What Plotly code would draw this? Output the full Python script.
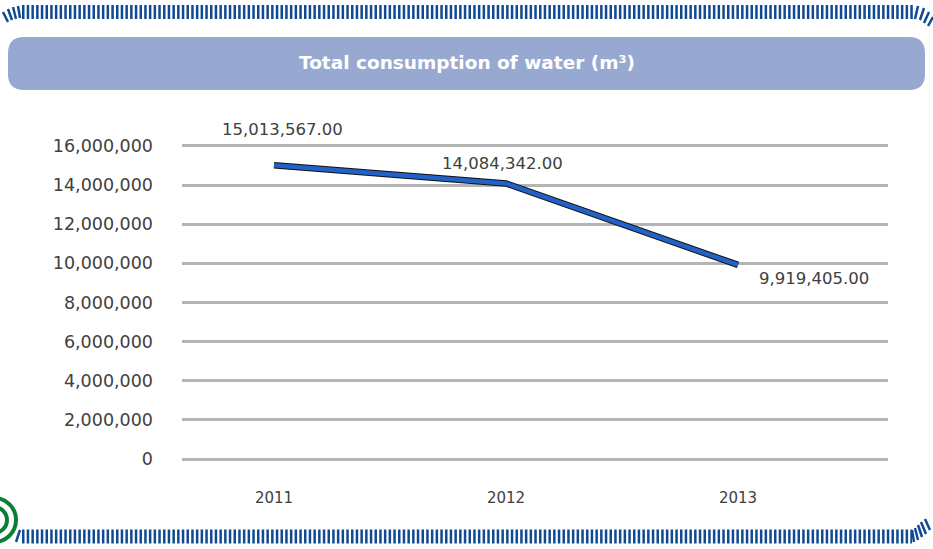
import plotly.graph_objects as go

years = [2011, 2012, 2013]
consumption = [15013567.00, 14084342.00, 9919405.00]
y_ticks = [0, 2000000, 4000000, 6000000, 8000000, 10000000, 12000000, 14000000, 16000000]

W, H = 933, 549
L, R, T, B = 182, 888, 144, 461  # plot area in pixels (range padded a little)


def px(x):
    return (x - L) / (R - L)


def py(y):
    return (B - y) / (B - T)


fig = go.Figure()
# dark shadow under the line, then the blue line
fig.add_trace(go.Scatter(x=years, y=consumption, mode='lines',
                         line=dict(color='#111111', width=6.5), hoverinfo='skip'))
fig.add_trace(go.Scatter(x=years, y=consumption, mode='lines',
                         line=dict(color='#2262C8', width=4.5)))

# value labels
lbl_font = dict(family='DejaVu Sans', size=16.5, color='#404040')
shifts = [(8, 36), (-4, 20), (76, -14)]
for xv, yv, (dx, dy) in zip(years, consumption, shifts):
    fig.add_annotation(x=xv, y=yv, text=f'{yv:,.2f}', showarrow=False,
                       xshift=dx, yshift=dy, font=lbl_font)

shapes = []
# rounded title bar
x0, x1, y0, y1, r = 8, 925, 37, 90, 16
path = (f'M {px(x0 + r)},{py(y0)} L {px(x1 - r)},{py(y0)} '
        f'Q {px(x1)},{py(y0)} {px(x1)},{py(y0 + r)} L {px(x1)},{py(y1 - r)} '
        f'Q {px(x1)},{py(y1)} {px(x1 - r)},{py(y1)} L {px(x0 + r)},{py(y1)} '
        f'Q {px(x0)},{py(y1)} {px(x0)},{py(y1 - r)} L {px(x0)},{py(y0 + r)} '
        f'Q {px(x0)},{py(y0)} {px(x0 + r)},{py(y0)} Z')
shapes.append(dict(type='path', xref='paper', yref='paper', path=path,
                   fillcolor='#97A9D1', line=dict(width=0), layer='below'))
# striped borders top and bottom
for yy, xa, xb in [(12, 22, 914), (536.5, 22, 912)]:
    shapes.append(dict(type='line', xref='paper', yref='paper',
                       x0=px(xa), x1=px(xb), y0=py(yy), y1=py(yy),
                       line=dict(color='#0F4A93', width=14, dash='2.5px,2.2px')))
# slanted stripes at the curled ends
ends = [
    [(3, 12, 8, 22), (8, 9, 12, 20), (13, 7, 16, 19), (18, 6, 20, 18)],
    [(915, 19, 918, 6), (920, 20, 924, 8), (924, 23, 929, 12), (928, 26, 933, 17)],
    [(16, 542, 20, 530)],
    [(914, 542, 912, 530), (918, 540, 915, 528), (922, 537, 918, 525), (926, 534, 921, 522), (930, 530, 925, 519)],
]
for seg in ends:
    for a, b, c, d in seg:
        shapes.append(dict(type='line', xref='paper', yref='paper',
                           x0=px(a), y0=py(b), x1=px(c), y1=py(d),
                           line=dict(color='#0F4A93', width=2.5)))
# green logo rings bottom left
for rr, w in [(22, 4), (13, 4)]:
    shapes.append(dict(type='circle', xref='paper', yref='paper',
                       x0=px(-6 - rr), x1=px(-6 + rr), y0=py(520 - rr), y1=py(520 + rr),
                       line=dict(color='#0A8037', width=w)))
fig.update_layout(shapes=shapes)

fig.add_annotation(xref='paper', yref='paper', x=px(467), y=py(62),
                   xanchor='center', yanchor='middle',
                   text='<b>Total consumption of water (m³)</b>', showarrow=False,
                   font=dict(family='DejaVu Sans', size=18.5, color='white'))

fig.update_layout(
    width=W, height=H,
    margin=dict(l=L, r=W - R, t=T, b=H - B),
    paper_bgcolor='white', plot_bgcolor='white',
    showlegend=False,
    xaxis=dict(range=[2011 - 92 / 232, 2013 + 150 / 232], tickvals=years,
               ticktext=[str(v) for v in years], showgrid=False, zeroline=False,
               showline=False, ticks='', ticklabelstandoff=26,
               tickfont=dict(family='DejaVu Sans', size=15, color='#404040')),
    yaxis=dict(range=[-100000, 16100000], tickvals=y_ticks, tickformat=',d',
               showgrid=True, gridcolor='#B4B4B4', gridwidth=2.5, zeroline=False,
               showline=False, ticks='', ticklabelstandoff=28,
               tickfont=dict(family='DejaVu Sans', size=17.5, color='#404040')),
)

fig.write_html('out.html', config={'displayModeBar': False},
               post_script="document.body.style.margin='0px';")
